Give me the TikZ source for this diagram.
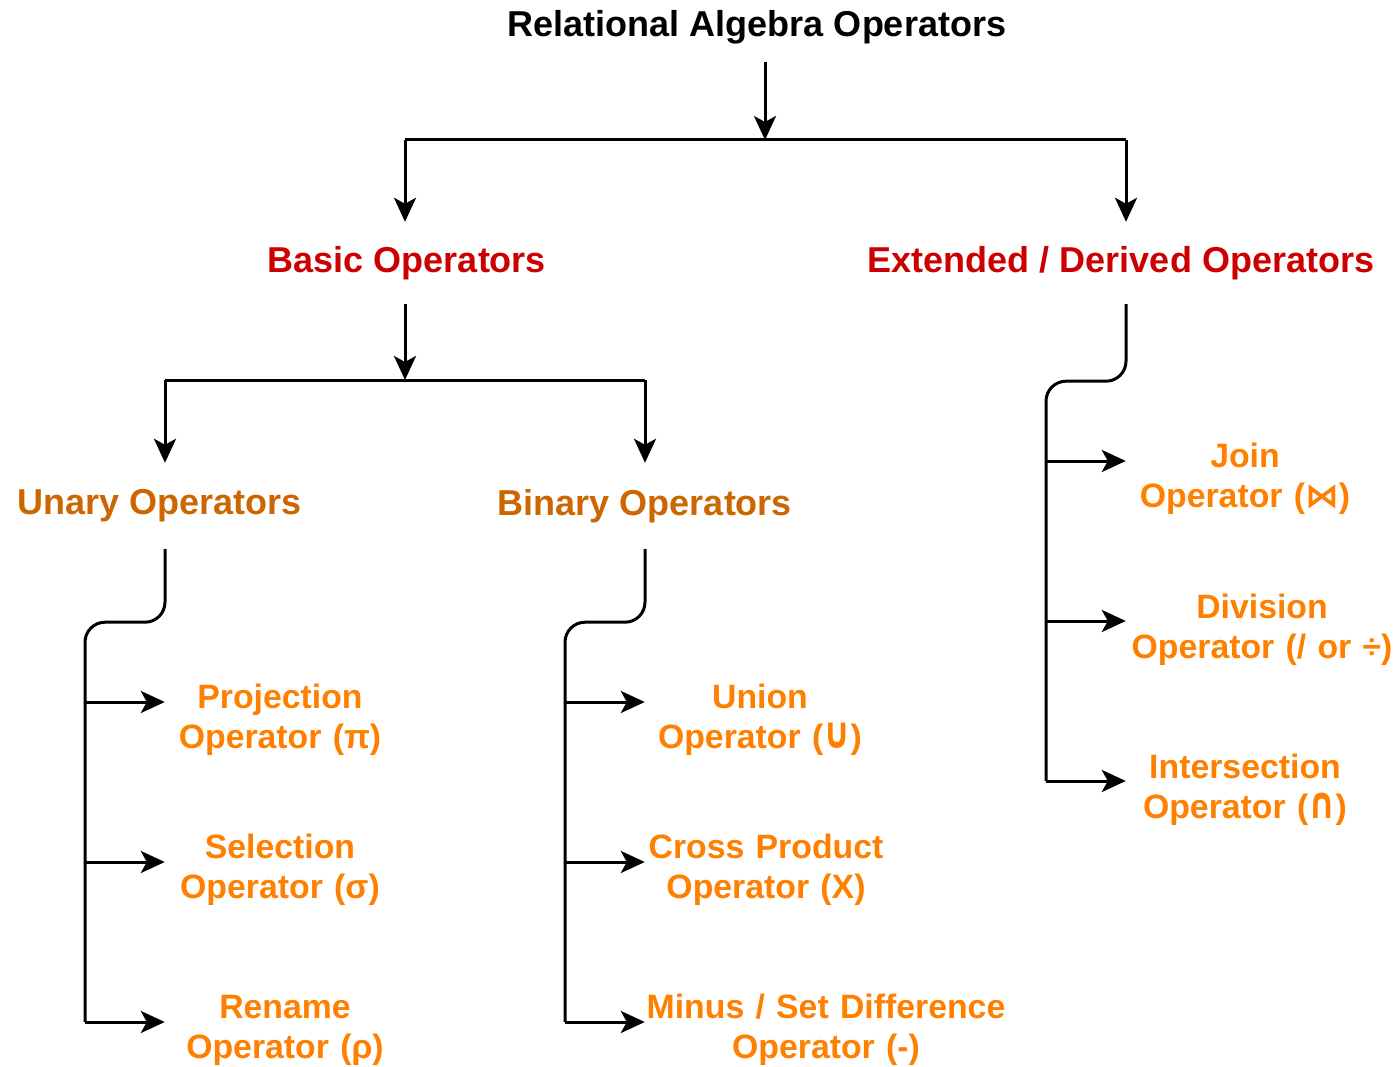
\documentclass[tikz,border=0pt]{standalone}
\usepackage{fontspec}
\setmainfont{Liberation Sans}
\newfontfamily\symfont{DejaVu Sans}
\usetikzlibrary{arrows.meta,positioning}
\definecolor{hdred}{HTML}{CC0000}
\definecolor{suborange}{HTML}{CC6600}
\definecolor{oporange}{HTML}{FF8000}
\newcommand{\tallsym}[1]{\scalebox{1}[1.3]{\symfont\bfseries #1}}
\tikzset{
  hv/.style = {font=\bfseries\fontsize{36}{42}\selectfont, minimum height=82pt, inner sep=0pt, align=center},
  sv/.style = {hv, text=suborange, minimum height=86pt},
  ov/.style = {font=\bfseries\fontsize{33.8}{40}\selectfont, text=oporange, inner sep=0pt, align=center},
  line/.style = {line width=3pt},
  spine/.style = {line width=3pt, rounded corners=20pt},
  arrow/.style = {line width=3pt, -{Stealth[length=24pt, width=22pt, inset=6pt]}}
}

\begin{document}
\begin{tikzpicture}[x=1pt, y=-1pt]
  \useasboundingbox (0,0) rectangle (1394,1067);
  % headings
  \node[hv, minimum height=70pt] (rao) at (757,27) {Relational Algebra Operators};
  \node[hv, text=hdred] (basic) at (407,263) {Basic Operators};
  \node[hv, text=hdred] (ext) at (1121,263) {Extended / Derived Operators};
  \node[sv] (unary) at (160,506) {Unary Operators};
  \node[sv] (binary) at (645,506) {Binary Operators};
  % operators
  \node[ov, text width=230pt] (proj) at (280,720) {Projection\\Operator (π)};
  \node[ov, text width=230pt] (sel) at (280,870) {Selection\\Operator (σ)};
  \node[ov, text width=240pt] (ren) at (285,1030) {Rename\\Operator (ρ)};
  \node[ov, text width=230pt] (uni) at (760,720) {Union\\Operator (\tallsym{∪})};
  \node[ov, text width=242pt] (cross) at (766,870) {Cross Product\\Operator (X)};
  \node[ov, text width=362pt] (minus) at (826,1030) {Minus / Set Difference\\Operator (-)};
  \node[ov, text width=238pt] (join) at (1245,479) {Join\\Operator ({\symfont\bfseries ⋈})};
  \node[ov, text width=272pt] (div) at (1262,630) {Division\\Operator (/ or ÷)};
  \node[ov, text width=238pt] (inter) at (1245,790) {Intersection\\Operator (\tallsym{∩})};
  % junctions
  \coordinate (j0) at (765,140);
  \coordinate (jb) at (405,140);
  \coordinate (je) at (1126,140);
  \coordinate (j1) at (405,380);
  \coordinate (ju) at (165,380);
  \coordinate (jn) at (645,380);
  \coordinate (u1) at (85,702);
  \coordinate (u2) at (85,862);
  \coordinate (u3) at (85,1022);
  \coordinate (b1) at (565,702);
  \coordinate (b2) at (565,862);
  \coordinate (b3) at (565,1022);
  \coordinate (e1) at (1046,461);
  \coordinate (e2) at (1046,621);
  \coordinate (e3) at (1046,781);
  % top levels
  \draw[arrow] (rao.south -| j0) -- (j0);
  \draw[line] (jb) -- (je);
  \draw[arrow] (jb) -- (jb |- basic.north);
  \draw[arrow] (je) -- (je |- ext.north);
  \draw[arrow] (jb |- basic.south) -- (j1);
  \draw[line] (ju) -- (jn);
  \draw[arrow] (ju) -- (ju |- unary.north);
  \draw[arrow] (jn) -- (jn |- binary.north);
  % spines
  \draw[spine] (ju |- unary.south) -- ++(0,73) -| (u3);
  \draw[spine] (jn |- binary.south) -- ++(0,73) -| (b3);
  \draw[spine] (je |- ext.south) -- ++(0,77) -| (e3);
  % branches
  \draw[arrow] (u1) -- (u1 -| proj.west);
  \draw[arrow] (u2) -- (u2 -| sel.west);
  \draw[arrow] (u3) -- (u3 -| ren.west);
  \draw[arrow] (b1) -- (b1 -| uni.west);
  \draw[arrow] (b2) -- (b2 -| cross.west);
  \draw[arrow] (b3) -- (b3 -| minus.west);
  \draw[arrow] (e1) -- (e1 -| join.west);
  \draw[arrow] (e2) -- (e2 -| div.west);
  \draw[arrow] (e3) -- (e3 -| inter.west);
\end{tikzpicture}
\end{document}
